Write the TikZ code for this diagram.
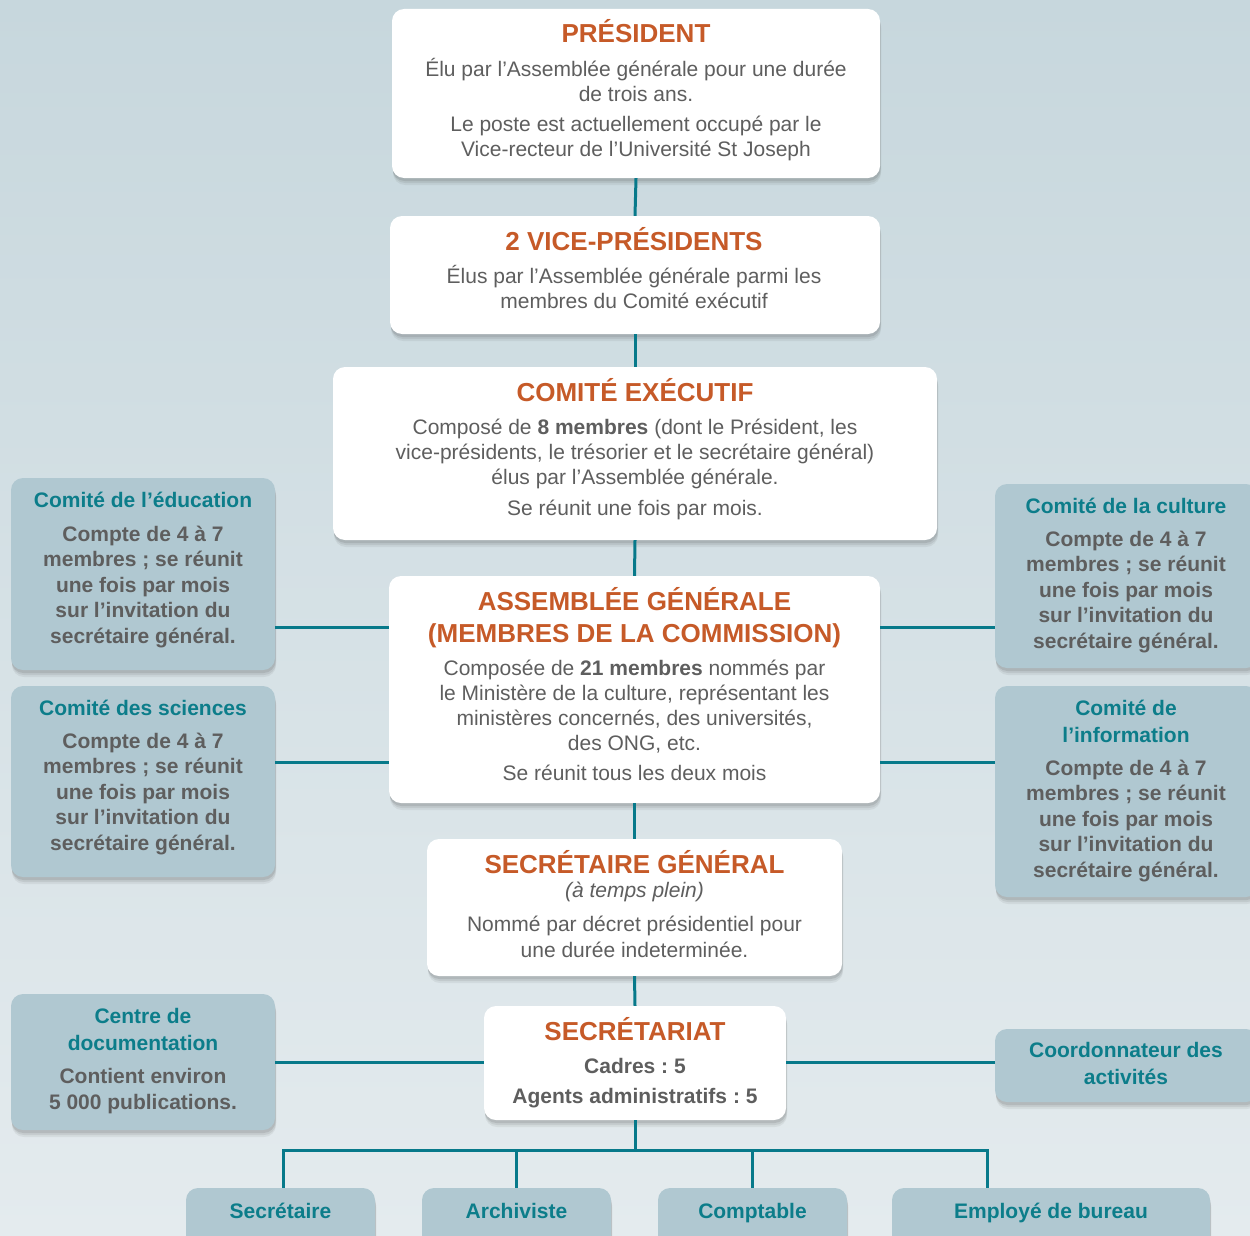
\documentclass[tikz,border=0pt]{standalone}
\usepackage{fontspec}
\setmainfont{Liberation Sans}
\usetikzlibrary{shadows}
\definecolor{bgtop}{HTML}{C7D7DD}
\definecolor{bgbot}{HTML}{E4EBEE}
\definecolor{sidefill}{HTML}{B0C8D1}
\definecolor{orangec}{HTML}{C65A28}
\definecolor{tealc}{HTML}{0C7D8A}
\definecolor{txtgray}{HTML}{5E5E5E}
\definecolor{linecol}{HTML}{07798A}
\newcommand{\hd}[1]{\textcolor{orangec}{\fontsize{26}{25}\selectfont\bfseries #1}}
\newcommand{\sh}[1]{\textcolor{tealc}{#1}}
\newcommand{\fst}{\rule{0pt}{26pt}}
\newcommand{\sst}{\rule{0pt}{24pt}}
\frenchspacing
\begin{document}
\begin{tikzpicture}[x=1pt,y=-1pt,
  box/.style={rounded corners=12pt, inner sep=0pt,
    drop shadow={shadow xshift=1pt,shadow yshift=-7pt,opacity=0.07,fill=black!80},
    drop shadow={shadow xshift=1pt,shadow yshift=-5pt,opacity=0.09,fill=black!80},
    drop shadow={shadow xshift=0.5pt,shadow yshift=-3pt,opacity=0.12,fill=black!80}},
  mainbox/.style={box, fill=white},
  sidebox/.style={box, fill=sidefill},
  txt/.style={inner sep=0pt, anchor=north, align=center, text=txtgray,
    font=\fontsize{21}{25}\selectfont},
  sidetxt/.style={inner sep=0pt, anchor=north, align=center, text=txtgray,
    font=\fontsize{21}{25.5}\selectfont\bfseries},
  conn/.style={draw=linecol, line width=3pt}]
\useasboundingbox (0,0) rectangle (1250,1236);
\clip (0,0) rectangle (1250,1236);
\shade[top color=bgtop, bottom color=bgbot] (0,0) rectangle (1250,1236);

% main boxes
\node[mainbox, minimum width=488pt, minimum height=169pt] (pres) at (636,93.5) {};
\node[mainbox, minimum width=490pt, minimum height=118pt] (vice) at (635,275) {};
\node[mainbox, minimum width=604pt, minimum height=173pt] (exec) at (635,453.5) {};
\node[mainbox, minimum width=491pt, minimum height=227pt] (assem) at (634.5,689.5) {};
\node[mainbox, minimum width=415pt, minimum height=137pt] (secgen) at (634.5,907.5) {};
\node[mainbox, minimum width=302pt, minimum height=114pt] (secr) at (635,1063) {};

% side boxes
\node[sidebox, minimum width=264pt, minimum height=192pt] (educ) at (143,574) {};
\node[sidebox, minimum width=264pt, minimum height=191pt] (sci) at (143,781.5) {};
\node[sidebox, minimum width=264pt, minimum height=136pt] (doc) at (143,1062) {};
\node[sidebox, minimum width=263pt, minimum height=184pt] (cult) at (1126.5,576) {};
\node[sidebox, minimum width=263pt, minimum height=211pt] (info) at (1126.5,791.5) {};
\node[sidebox, minimum width=263pt, minimum height=73pt] (coord) at (1126.5,1065.5) {};

% bottom boxes
\node[sidebox, minimum width=189pt, minimum height=62pt] (b1) at (280.5,1219) {};
\node[sidebox, minimum width=189pt, minimum height=62pt] (b2) at (516.5,1219) {};
\node[sidebox, minimum width=189pt, minimum height=62pt] (b3) at (752.5,1219) {};
\node[sidebox, minimum width=318pt, minimum height=62pt] (b4) at (1051,1219) {};

% texts
\node[txt] (pres-t) at (636,16.3) {\fst\hd{PRÉSIDENT}\\[8.7pt]
  Élu par l’Assemblée générale pour une durée\\ de trois ans.\\[5pt]
  Le poste est actuellement occupé par le\\ Vice-recteur de l’Université St Joseph};
\node[txt] (vice-t) at (634,224.3) {\fst\hd{2 VICE-PRÉSIDENTS}\\[7.7pt]
  Élus par l’Assemblée générale parmi les\\ membres du Comité exécutif};
\node[txt] (exec-t) at (635,375.3) {\fst\hd{COMITÉ EXÉCUTIF}\\[7.7pt]
  Composé de \textbf{8 membres} (dont le Président, les\\
  vice-présidents, le trésorier et le secrétaire général)\\
  élus par l’Assemblée générale.\\[6pt]
  Se réunit une fois par mois.};
\node[txt] (assem-t) at (634.5,584.3) {\fst\hd{ASSEMBLÉE GÉNÉRALE}\\[7pt]
  \hd{(MEMBRES DE LA COMMISSION)}\\[7.7pt]
  Composée de \textbf{21 membres} nommés par\\
  le Ministère de la culture, représentant les\\
  ministères concernés, des universités,\\
  des ONG, etc.\\[5pt]
  Se réunit tous les deux mois};
\node[txt] (secgen-t) at (634.5,847.3) {\fst\hd{SECRÉTAIRE GÉNÉRAL}\\[-1.3pt]
  \textit{(à temps plein)}\\[9pt]
  Nommé par décret présidentiel pour\\[1pt]
  une durée indeterminée.};
\node[txt] (secr-t) at (635,1014.3) {\fst\hd{SECRÉTARIAT}\\[7.7pt]
  \textbf{Cadres : 5}\\[5pt]
  \textbf{Agents administratifs : 5}};

\node[sidetxt] (educ-t) at (143,483) {\sst\sh{Comité de l’éducation}\\[8.5pt]
  Compte de 4 à 7\\ membres ; se réunit\\ une fois par mois\\
  sur l’invitation du\\ secrétaire général.};
\node[sidetxt] (sci-t) at (143,691) {\sst\sh{Comité des sciences}\\[7.5pt]
  Compte de 4 à 7\\ membres ; se réunit\\ une fois par mois\\
  sur l’invitation du\\ secrétaire général.};
\node[sidetxt] (cult-t) at (1126,489) {\sst\sh{Comité de la culture}\\[7.5pt]
  Compte de 4 à 7\\ membres ; se réunit\\ une fois par mois\\
  sur l’invitation du\\ secrétaire général.};
\node[sidetxt] (info-t) at (1126,691) {\sst\sh{Comité de}\\[1.5pt]\sh{l’information}\\[7.5pt]
  Compte de 4 à 7\\ membres ; se réunit\\ une fois par mois\\
  sur l’invitation du\\ secrétaire général.};
\node[sidetxt] (doc-t) at (143,999) {\sst\sh{Centre de}\\[1.5pt]\sh{documentation}\\[7.5pt]
  Contient environ\\[0.5pt] 5 000 publications.};
\node[sidetxt] (coord-t) at (1126,1033) {\sst\sh{Coordonnateur des}\\[1.5pt]\sh{activités}};

\node[sidetxt] (b1-t) at (280.5,1194) {\sst\sh{Secrétaire}};
\node[sidetxt] (b2-t) at (516.5,1194) {\sst\sh{Archiviste}};
\node[sidetxt] (b3-t) at (752.5,1194) {\sst\sh{Comptable}};
\node[sidetxt] (b4-t) at (1051,1194) {\sst\sh{Employé de bureau}};

% connectors
\coordinate (h1) at (0,627);
\coordinate (h2) at (0,762);
\coordinate (h3) at (0,1062);
\coordinate (bus) at (635,1150);
\draw[conn] (pres.south) -- (vice.north);
\draw[conn] (vice.south) -- (exec.north);
\draw[conn] (exec.south) -- (assem.north);
\draw[conn] (assem.south) -- (secgen.north);
\draw[conn] (secgen.south) -- (secr.north);
\draw[conn] (secr.south) -- (bus);
\draw[conn] (educ.east |- h1) -- (assem.west |- h1);
\draw[conn] (assem.east |- h1) -- (cult.west |- h1);
\draw[conn] (sci.east |- h2) -- (assem.west |- h2);
\draw[conn] (assem.east |- h2) -- (info.west |- h2);
\draw[conn] (doc.east |- h3) -- (secr.west |- h3);
\draw[conn] (secr.east |- h3) -- (coord.west |- h3);
\coordinate (d1) at ([xshift=2.5pt]b1.north);
\coordinate (d4) at ([xshift=-64pt]b4.north);
\draw[conn] (d1) |- (bus) -| (d4);
\draw[conn] (b2.north) -- (b2.north |- bus);
\draw[conn] (b3.north) -- (b3.north |- bus);
\end{tikzpicture}
\end{document}
